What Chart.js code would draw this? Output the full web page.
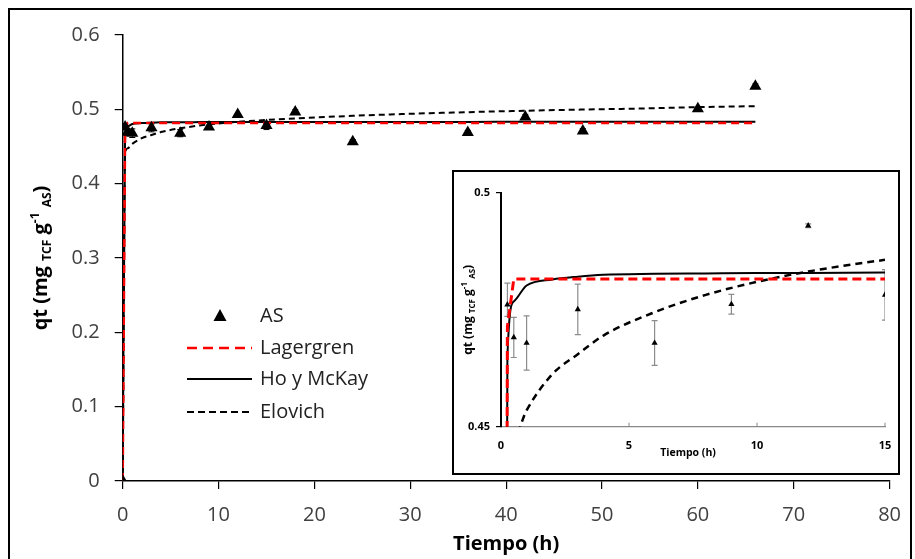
<!DOCTYPE html>
<html>
<head>
<meta charset="utf-8">
<script src="https://cdn.jsdelivr.net/npm/chart.js@4.4.0/dist/chart.umd.min.js"></script>
<style>
html, body { margin: 0; padding: 0; background: #fff; }
#wrap { position: relative; width: 915px; height: 559px; overflow: hidden; }
#frame { position: absolute; left: 8px; top: 8px; width: 904px; height: 562px; border: 2.5px solid #000; box-sizing: border-box; }
#main { position: absolute; left: 0; top: 0; }
#insetBox { position: absolute; left: 452px; top: 170px; width: 448px; height: 305px; border: 2px solid #000; box-sizing: border-box; background: #fff; }
#inset { position: absolute; left: 0; top: 0; }
</style>
</head>
<body>
<div id="wrap">
  <div id="frame"></div>
  <canvas id="main" width="915" height="559"></canvas>
  <div id="insetBox"><canvas id="inset" width="444" height="301"></canvas></div>
</div>
<script>
// datos experimentales (AS)
const timeH = [0, 0.25, 0.5, 1, 3, 6, 9, 12, 15, 18, 24, 36, 42, 48, 60, 66];
const qtAS = [0, 0.4761, 0.4691, 0.4679, 0.4751, 0.4679, 0.4762, 0.4930, 0.4782, 0.4964, 0.4563, 0.4687, 0.4897, 0.4710, 0.5008, 0.5312];
const errUp = [0, 0.0046, 0.0043, 0.0058, 0.0054, 0.0048, 0.0021, 0.0004, 0.0054, 0.003, 0.003, 0.003, 0.003, 0.003, 0.002, 0.003];
const errDown = [0, 0.0025, 0.0043, 0.0058, 0.0054, 0.0048, 0.0021, 0.0004, 0.0054, 0.003, 0.003, 0.003, 0.003, 0.003, 0.002, 0.003];

// modelos ajustados
const modelT = [0, 0.25, 0.5, 1, 2, 3, 4, 6, 8, 10, 12, 15, 18, 24, 30, 36, 42, 48, 54, 60, 66];
const lagergren = [0, 0.4714, 0.4816, 0.4816, 0.4816, 0.4816, 0.4816, 0.4816, 0.4816, 0.4816, 0.4816, 0.4816, 0.4816, 0.4816, 0.4816, 0.4816, 0.4816, 0.4816, 0.4816, 0.4816, 0.4816];
const hoMcKay = [0, 0.465, 0.4768, 0.4802, 0.4815, 0.4821, 0.4825, 0.4827, 0.4828, 0.4829, 0.4829, 0.4830, 0.4830, 0.4831, 0.4831, 0.4831, 0.4832, 0.4832, 0.4832, 0.4832, 0.4832];
const elovich = [0, 0.440, 0.4475, 0.4535, 0.4612, 0.4655, 0.4695, 0.4745, 0.4782, 0.4810, 0.4832, 0.4857, 0.4878, 0.4913, 0.4940, 0.4962, 0.4981, 0.4997, 0.5011, 0.5030, 0.5042];

const mainXTicks = [0, 80, 10];
const mainYTicks = [0, 0.6, 0.1];
const insetXTicks = [0, 15, 5];
const insetYTicks = [0.45, 0.5, 0.05];

const FONT = '"Open Sans", "DejaVu Sans", sans-serif';

function xy(xs, ys) {
    return xs.map((x, i) => ({ x: x, y: ys[i] }));
}

function buildDatasets(small) {
    return [
        {
            label: 'AS',
            data: xy(timeH, qtAS),
            showLine: false,
            pointStyle: 'triangle',
            pointRadius: small ? 3.6 : 7,
            pointBackgroundColor: '#000',
            pointBorderColor: '#000',
            pointBorderWidth: 0
        },
        {
            label: 'Lagergren',
            data: xy(modelT, lagergren),
            borderColor: '#ff0000',
            borderWidth: small ? 3 : 2.5,
            borderDash: small ? [9, 5] : [8, 5],
            pointRadius: 0,
            tension: 0
        },
        {
            label: 'Ho y McKay',
            data: xy(modelT, hoMcKay),
            borderColor: '#000',
            borderWidth: 2,
            pointRadius: 0,
            cubicInterpolationMode: 'monotone'
        },
        {
            label: 'Elovich',
            data: xy(modelT, elovich),
            borderColor: '#000',
            borderWidth: small ? 2.5 : 2,
            borderDash: small ? [7, 5] : [6, 4],
            pointRadius: 0,
            cubicInterpolationMode: 'monotone'
        }
    ];
}

// barras de error
function drawErrorBars(chart, color, cap, width) {
    const { ctx, chartArea: a, scales: { x, y } } = chart;
    ctx.save();
    ctx.beginPath();
    ctx.rect(a.left, a.top, a.right - a.left, a.bottom - a.top);
    ctx.clip();
    ctx.strokeStyle = color;
    ctx.lineWidth = width;
    timeH.forEach((t, i) => {
        if (!errUp[i] && !errDown[i]) return;
        const px = x.getPixelForValue(t);
        const top = y.getPixelForValue(qtAS[i] + errUp[i]);
        const bot = y.getPixelForValue(qtAS[i] - errDown[i]);
        ctx.beginPath();
        ctx.moveTo(px, top); ctx.lineTo(px, bot);
        ctx.moveTo(px - cap, top); ctx.lineTo(px + cap, top);
        ctx.moveTo(px - cap, bot); ctx.lineTo(px + cap, bot);
        ctx.stroke();
    });
    ctx.restore();
}

// texto rotado con subíndices
function drawRotatedLabel(ctx, parts, cx, cy) {
    ctx.save();
    ctx.translate(cx, cy);
    ctx.rotate(-Math.PI / 2);
    let total = 0;
    parts.forEach(p => { ctx.font = p[1]; total += ctx.measureText(p[0]).width; });
    let x = -total / 2;
    ctx.textBaseline = 'alphabetic';
    ctx.textAlign = 'left';
    ctx.fillStyle = '#000';
    parts.forEach(p => {
        ctx.font = p[1];
        ctx.fillText(p[0], x, p[2]);
        x += ctx.measureText(p[0]).width;
    });
    ctx.restore();
}

function yLabelParts(big, sm, sub, sup) {
    const b = 'bold ' + big + 'px ' + FONT;
    const s = 'bold ' + sm + 'px ' + FONT;
    return [
        ['qt (mg ', b, 0], ['TCF', s, sub], [' g', b, 0], ['-1', s, sup],
        [' ', b, 0], ['AS', s, sub], [')', b, 0]
    ];
}

const mainDecor = {
    id: 'mainDecor',
    beforeDatasetsDraw(chart) {
        drawErrorBars(chart, '#000', 3, 1);
    },
    afterDraw(chart) {
        const ctx = chart.ctx;
        const a = chart.chartArea;
        drawRotatedLabel(ctx, yLabelParts(20, 12, 4, -8), 47, (a.top + a.bottom) / 2);

        ctx.save();
        ctx.fillStyle = '#000';
        ctx.font = 'bold 20px ' + FONT;
        ctx.textAlign = 'center';
        ctx.textBaseline = 'middle';
        ctx.fillText('Tiempo (h)', (a.left + a.right) / 2, 544);

        // leyenda
        const rows = [316, 348, 379, 412];
        ctx.font = '20px ' + FONT;
        ctx.textAlign = 'left';
        chart.data.datasets.forEach((ds, i) => {
            const yy = rows[i];
            if (ds.showLine === false) {
                ctx.beginPath();
                ctx.moveTo(220, yy - 7);
                ctx.lineTo(226.5, yy + 5);
                ctx.lineTo(213.5, yy + 5);
                ctx.closePath();
                ctx.fillStyle = '#000';
                ctx.fill();
            } else {
                ctx.beginPath();
                ctx.strokeStyle = ds.borderColor;
                ctx.lineWidth = ds.borderWidth;
                ctx.setLineDash(i === 1 ? [10, 6] : (ds.borderDash ? [7, 4] : []));
                ctx.moveTo(187, yy);
                ctx.lineTo(252, yy);
                ctx.stroke();
                ctx.setLineDash([]);
            }
            ctx.fillStyle = '#222';
            ctx.fillText(ds.label, 260, yy);
        });
        ctx.restore();
    }
};

const insetDecor = {
    id: 'insetDecor',
    beforeDatasetsDraw(chart) {
        drawErrorBars(chart, '#8c8c8c', 3, 1.2);
    },
    afterDraw(chart) {
        const ctx = chart.ctx;
        const a = chart.chartArea;
        drawRotatedLabel(ctx, yLabelParts(12, 8, 2.5, -5), 18, (a.top + a.bottom) / 2);
        ctx.save();
        ctx.fillStyle = '#000';
        ctx.font = 'bold 10.5px ' + FONT;
        ctx.textAlign = 'center';
        ctx.textBaseline = 'middle';
        ctx.fillText('Tiempo (h)', (a.left + a.right) / 2 - 5, 281);
        // marcas del eje x hacia dentro
        const x = chart.scales.x;
        ctx.strokeStyle = '#888';
        ctx.lineWidth = 1;
        ctx.beginPath();
        for (let v = insetXTicks[0] + insetXTicks[2]; v <= insetXTicks[1]; v += insetXTicks[2]) {
            const px = x.getPixelForValue(v);
            ctx.moveTo(px, a.bottom);
            ctx.lineTo(px, a.bottom - 4);
        }
        ctx.stroke();
        ctx.restore();
    }
};

Chart.defaults.font.family = FONT;

const mainChart = new Chart(document.getElementById('main'), {
    type: 'line',
    data: { datasets: buildDatasets(false) },
    options: {
        responsive: false,
        animation: false,
        events: [],
        layout: { padding: { left: 0, top: 35, right: 17, bottom: 0 } },
        plugins: { legend: { display: false }, tooltip: { enabled: false } },
        scales: {
            x: {
                type: 'linear',
                min: mainXTicks[0], max: mainXTicks[1],
                ticks: { stepSize: mainXTicks[2], color: '#404040', font: { size: 20 }, padding: 14 },
                grid: { drawOnChartArea: false, tickLength: 8, color: '#000', lineWidth: 1.2 },
                border: { color: '#000', width: 1.5 },
                afterFit(s) { s.height = 78; }
            },
            y: {
                min: mainYTicks[0], max: mainYTicks[1],
                ticks: {
                    stepSize: mainYTicks[2], color: '#404040', font: { size: 20 }, padding: 15,
                    callback: v => v === 0 ? '0' : v.toFixed(1)
                },
                grid: { drawOnChartArea: false, tickLength: 8, color: '#000', lineWidth: 1.2 },
                border: { color: '#000', width: 1.5 },
                afterFit(s) { s.width = 122.7; }
            }
        }
    },
    plugins: [mainDecor]
});

const insetChart = new Chart(document.getElementById('inset'), {
    type: 'line',
    data: { datasets: buildDatasets(true) },
    options: {
        responsive: false,
        animation: false,
        events: [],
        layout: { padding: { left: 0, top: 21, right: 13, bottom: 0 } },
        plugins: { legend: { display: false }, tooltip: { enabled: false } },
        scales: {
            x: {
                type: 'linear',
                min: insetXTicks[0], max: insetXTicks[1],
                ticks: { stepSize: insetXTicks[2], color: '#000', font: { size: 11, weight: 'bold' }, padding: 5 },
                grid: { display: false },
                border: { color: '#888', width: 1.2 },
                afterFit(s) { s.height = 46.3; }
            },
            y: {
                min: insetYTicks[0], max: insetYTicks[1],
                ticks: {
                    stepSize: insetYTicks[2], color: '#000', font: { size: 11, weight: 'bold' }, padding: 6,
                    callback: v => String(+v.toFixed(2))
                },
                grid: { drawOnChartArea: false, tickLength: 5, color: '#000', lineWidth: 1.2 },
                border: { color: '#000', width: 2 },
                afterFit(s) { s.width = 47; }
            }
        }
    },
    plugins: [insetDecor]
});
</script>
</body>
</html>
